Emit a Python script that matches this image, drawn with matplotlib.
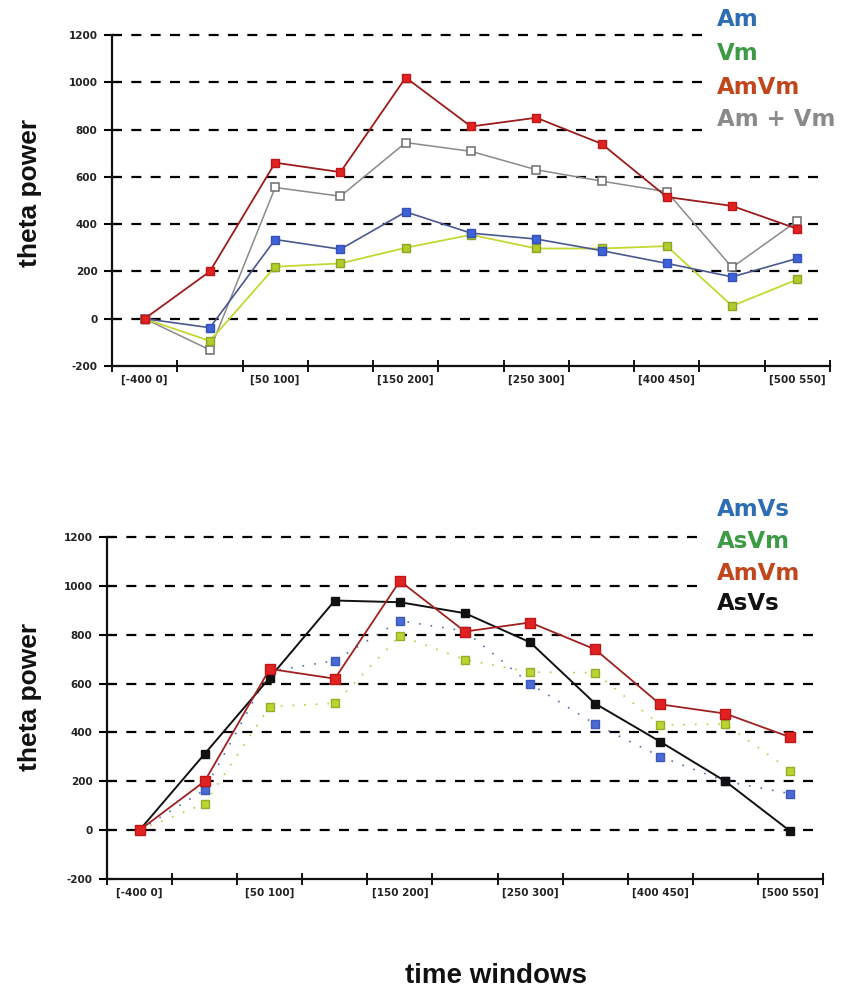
import matplotlib
matplotlib.use("Agg")
import matplotlib.pyplot as plt
from matplotlib.patches import Rectangle

# ---- data -------------------------------------------------------------
time_windows = ["[-400 0]", "", "[50 100]", "", "[150 200]", "",
                "[250 300]", "", "[400 450]", "", "[500 550]"]
y_ticks = [-200, 0, 200, 400, 600, 800, 1000, 1200]

# upper panel
am = [0, -38, 335, 294, 452, 362, 337, 288, 234, 177, 255]
vm = [0, -94, 220, 234, 300, 355, 297, 297, 307, 54, 166]
amvm = [0, 200, 660, 620, 1020, 813, 850, 740, 515, 477, 380]
am_plus_vm = [0, -132, 555, 518, 745, 708, 630, 582, 537, 217, 414]

# lower panel
amvs = [0, 165, 650, 694, 857, 815, 599, 434, 301, 200, 149]
asvm = [0, 108, 506, 519, 796, 698, 647, 644, 431, 434, 244]
asvs = [0, 312, 624, 940, 933, 888, 769, 518, 362, 200, -5]

top_names = ["Am", "Vm", "AmVm", "Am + Vm"]
bottom_names = ["AmVs", "AsVm", "AmVm", "AsVs"]

W, H = 843, 994
fig = plt.figure(figsize=(W / 100, H / 100), dpi=100)

def px_axes(left, right, top, bottom):
    return fig.add_axes([left / W, 1 - bottom / H, (right - left) / W, (bottom - top) / H])

def setup(ax):
    n = len(time_windows)
    x = list(range(n))
    ax.set_xlim(-0.5, n - 0.5)
    ax.set_ylim(y_ticks[0], y_ticks[-1])
    for s in ("top", "right"):
        ax.spines[s].set_visible(False)
    for s in ("left", "bottom"):
        ax.spines[s].set_linewidth(1.6)
        ax.spines[s].set_color("#111111")
    ax.spines["left"].set_zorder(6)
    ax.set_yticks(y_ticks)
    ax.set_yticklabels([str(v) for v in y_ticks], fontsize=7.5,
                       fontweight="bold", color="#222222")
    ax.tick_params(axis="y", direction="inout", length=11, width=1.5, pad=5)
    # category boundaries carry the ticks, centres carry the labels
    ax.set_xticks([i - 0.5 for i in range(n + 1)])
    ax.set_xticklabels([])
    ax.set_xticks(x, minor=True)
    ax.set_xticklabels(time_windows, minor=True, fontsize=7.5,
                       fontweight="bold", color="#222222")
    ax.tick_params(axis="x", which="major", direction="inout", length=9, width=1.3)
    ax.tick_params(axis="x", which="minor", length=0, pad=6)
    for v in y_ticks[1:]:
        ax.axhline(v, xmin=0, xmax=0.99, color="black", lw=1.6,
                   linestyle=(0, (4.5, 4.2)), zorder=1, clip_on=False)
    return x

# ---- upper panel --------------------------------------------------------
ax1 = px_axes(112, 830, 35, 366)
x = setup(ax1)
ax1.plot(x, am_plus_vm, color="#8a8a8a", lw=1.1, marker="s", ms=5.5,
         mfc="white", mec="#6e6e6e", mew=1.1, zorder=3)
ax1.plot(x, vm, color="#c4d832", lw=1.3, marker="s", ms=5.5,
         mfc="#b0cc2a", mec="#8aa624", zorder=3)
ax1.plot(x, am, color="#4a5890", lw=1.2, marker="s", ms=5.5,
         mfc="#3d63d6", mec="#3550b8", zorder=4)
ax1.plot(x, amvm, color="#9c1c1c", lw=1.3, marker="s", ms=6,
         mfc="#e02222", mec="#c01616", zorder=5)

# ---- lower panel --------------------------------------------------------
ax2 = px_axes(107, 823, 537, 879)
x = setup(ax2)
ax2.plot(x, asvm, color="#b9cd3c", lw=1.2, linestyle=(0, (1, 6)), zorder=3)
ax2.plot(x, asvm, linestyle="none", marker="s", ms=5.5,
         mfc="#bcd430", mec="#98ac2a", zorder=3)
ax2.plot(x, amvs, color="#5070b0", lw=1.2, linestyle=(0, (1, 6)), zorder=3)
ax2.plot(x, amvs, linestyle="none", marker="s", ms=5.5,
         mfc="#4a6ad6", mec="#3c58b8", zorder=3)
ax2.plot(x, asvs, color="#111111", lw=1.4, marker="s", ms=6,
         mfc="#111111", mec="#111111", zorder=4)
ax2.plot(x, amvm, color="#a02020", lw=1.3, marker="s", ms=6.5,
         mfc="#e02222", mec="#c01616", zorder=5)

# ---- axis titles ----------------------------------------------------------
label_font = dict(family="Liberation Sans", fontweight="bold", color="#111111")
fig.text(30 / W, 1 - 193 / H, "theta power", rotation=90, ha="center",
         va="center", fontsize=19, **label_font)
fig.text(30 / W, 1 - 697 / H, "theta power", rotation=90, ha="center",
         va="center", fontsize=19, **label_font)
fig.text(496 / W, 1 - 976 / H, "time windows", ha="center", va="center",
         fontsize=20, **label_font)

# ---- coloured-text legends ---------------------------------------------------
def text_legend(names, colors, x0, rows, box):
    bx0, by0, bx1, by1 = box
    fig.patches.append(Rectangle((bx0 / W, 1 - by1 / H), (bx1 - bx0) / W,
                                 (by1 - by0) / H, transform=fig.transFigure,
                                 facecolor="white", edgecolor="none", zorder=2))
    for name, c, yc in zip(names, colors, rows):
        fig.text(x0 / W, 1 - yc / H, name, ha="left", va="center",
                 fontsize=16.5, fontweight="bold", color=c, zorder=4)

text_legend(top_names, ["#2c6db4", "#3e9b45", "#c2451c", "#8a8a8a"],
            717, [20, 53, 87, 120], (703, 0, 843, 136))
text_legend(bottom_names, ["#2c6db4", "#3e9b45", "#c2451c", "#111111"],
            717, [510, 542, 574, 604], (700, 488, 843, 620))

fig.savefig("out.png", dpi=100, facecolor="white")
